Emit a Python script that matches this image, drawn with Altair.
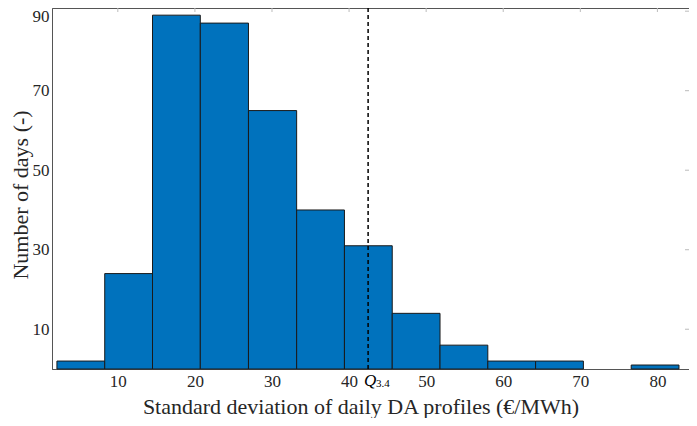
import altair as alt
import pandas as pd

# bin edges (€/MWh) and counts
bin_start = [2.1, 8.3, 14.5, 20.7, 26.95, 33.2, 39.4, 45.6, 51.8, 58.0, 64.2, 70.4, 76.6]
bin_end = [8.3, 14.5, 20.7, 26.95, 33.2, 39.4, 45.6, 51.8, 58.0, 64.2, 70.4, 76.6, 82.8]
counts = [2, 24, 89, 87, 65, 40, 31, 14, 6, 2, 2, 0, 1]

x_ticks = [10, 20, 30, 40, 50, 60, 70, 80]
y_ticks = [10, 30, 50, 70, 90]
q_value = [42.47]
q_label = ["Q"]
q_sub = ["3.4"]

x_domain = [1.46, 84.1]
y_domain = [0, 90.8]

FONT = "Liberation Serif"
W, H = 637, 361

bars_df = pd.DataFrame({"start": bin_start, "end": bin_end, "count": counts})
bars_df = bars_df[bars_df["count"] > 0]
q_df = pd.DataFrame({"q": q_value, "lab": q_label, "sub": q_sub})
xt_df = pd.DataFrame({"v": x_ticks})
yt_df = pd.DataFrame({"v": y_ticks})

xscale = alt.Scale(domain=x_domain, nice=False, zero=False)
yscale = alt.Scale(domain=y_domain, nice=False)

bars = alt.Chart(bars_df).mark_rect(
    color="#0072BD", stroke="#1a1a1a", strokeWidth=1
).encode(
    x=alt.X("start:Q", scale=xscale,
            axis=alt.Axis(values=x_ticks, title="Standard deviation of daily DA profiles (€/MWh)",
                          grid=False, ticks=False, labelPadding=4, titlePadding=7,
                          labelFlush=False, titleX=W / 2 - 10)),
    x2="end:Q",
    y=alt.Y("count:Q", scale=yscale,
            axis=alt.Axis(values=y_ticks, title="Number of days (-)", grid=False, ticks=False,
                          labelPadding=3, titlePadding=0, labelFlush=5, labelFlushOffset=3,
                          titleY=H / 2 + 6)),
    y2=alt.datum(0),
)

qline = alt.Chart(q_df).mark_rule(
    color="black", strokeWidth=1.5, strokeDash=[4, 3]
).encode(x=alt.X("q:Q", scale=xscale), y=alt.value(0), y2=alt.value(H))

qtext = alt.Chart(q_df).mark_text(
    font=FONT, fontSize=17, fontStyle="italic", align="left", baseline="middle", dx=-4
).encode(x=alt.X("q:Q", scale=xscale), y=alt.value(H + 12), text="lab:N")

qsub = alt.Chart(q_df).mark_text(
    font=FONT, fontSize=11, align="left", baseline="middle", dx=8
).encode(x=alt.X("q:Q", scale=xscale), y=alt.value(H + 15), text="sub:N")

# faint inward ticks on the mirrored (top and right) axes
tick_color = "#bbbbbb"
xt_top = alt.Chart(xt_df).mark_rule(color=tick_color).encode(
    x=alt.X("v:Q", scale=xscale), y=alt.value(0), y2=alt.value(4))
yt_right = alt.Chart(yt_df).mark_rule(color=tick_color).encode(
    y=alt.Y("v:Q", scale=yscale), x=alt.value(W - 4), x2=alt.value(W))

chart = alt.layer(xt_top, yt_right, bars, qline, qtext, qsub).properties(
    width=W, height=H,
    padding={"left": 44, "top": 0, "right": 0, "bottom": 49},
    autosize=alt.AutoSizeParams(type="none"),
).configure_view(
    stroke="#555555", strokeWidth=1
).configure_axis(
    domainColor="#555555", labelFont=FONT, titleFont=FONT, labelFontSize=17,
    titleFontSize=22, titleFontWeight="normal", labelColor="#262626", titleColor="#262626",
)

chart.save("out.html", embed_options={"renderer": "svg", "actions": False})
